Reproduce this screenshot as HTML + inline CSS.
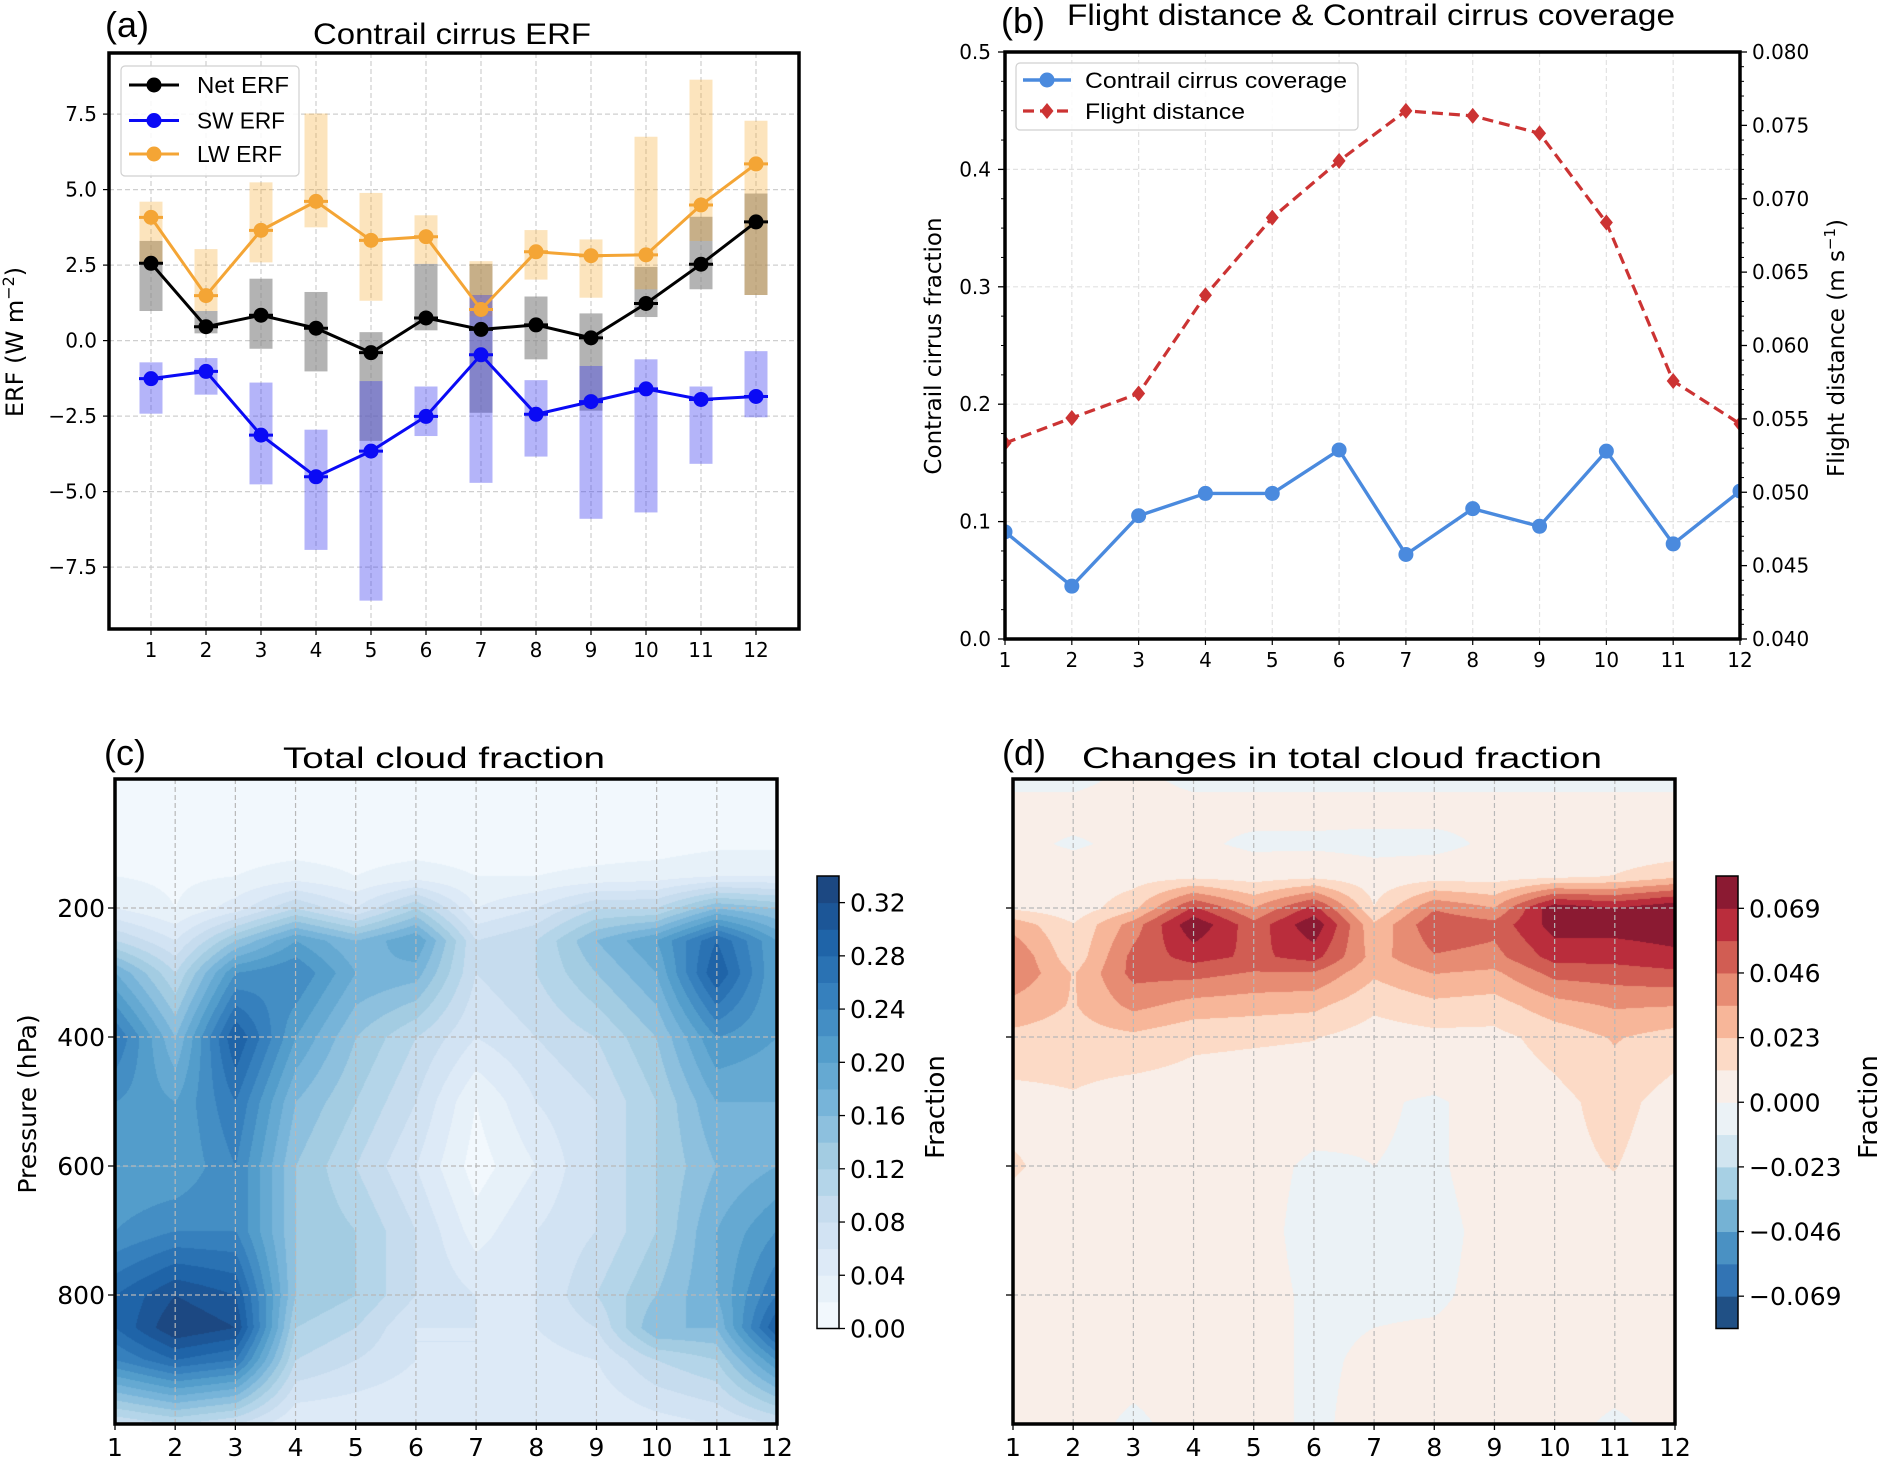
<!DOCTYPE html>
<html><head><meta charset="utf-8">
<style>
html,body{margin:0;padding:0;background:#fff;}
#wrap{position:relative;width:1884px;height:1459px;overflow:hidden;background:#fff;}
canvas{position:absolute;}
svg{position:absolute;left:0;top:0;}
text{font-family:"DejaVu Sans","Liberation Sans",sans-serif;}
.tt{font-family:"Liberation Sans",sans-serif;}
</style></head>
<body>
<div id="wrap">
<canvas id="cvc" style="left:115px;top:779px" width="662" height="645"></canvas>
<canvas id="cvd" style="left:1013px;top:779px" width="662" height="645"></canvas>
<svg id="svg" width="1884" height="1459"></svg>
</div>
<script>
// ---------- Panel (a) data ----------
const months = [1,2,3,4,5,6,7,8,9,10,11,12];
const netErf = [2.56,0.46,0.84,0.41,-0.40,0.75,0.37,0.52,0.09,1.23,2.53,3.93];
const swErf  = [-1.26,-1.02,-3.13,-4.51,-3.66,-2.51,-0.47,-2.44,-2.02,-1.60,-1.95,-1.85];
const lwErf  = [4.08,1.49,3.65,4.61,3.32,3.44,1.03,2.94,2.81,2.84,4.49,5.85];
const netHi = [3.30,0.98,2.05,1.61,0.28,2.54,2.54,1.46,0.90,2.44,4.10,4.87];
const netLo = [0.98,0.24,-0.27,-1.02,-3.32,0.34,-2.39,-0.62,-2.32,0.78,1.70,1.51];
const swHi = [-0.72,-0.58,-1.39,-2.95,-1.34,-1.52,1.51,-1.31,-0.84,-0.62,-1.52,-0.35];
const swLo = [-2.42,-1.79,-4.76,-6.93,-8.61,-3.16,-4.71,-3.84,-5.90,-5.69,-4.08,-2.54];
const lwHi = [4.60,3.03,5.24,7.52,4.89,4.15,2.63,3.66,3.35,6.75,8.64,7.28];
const lwLo = [2.56,0.98,2.59,3.75,1.32,2.54,0.80,2.02,1.42,1.70,3.30,1.51];
const aTicks = [-7.5,-5.0,-2.5,0.0,2.5,5.0,7.5];
const aTickLabels = ["\u22127.5","\u22125.0","\u22122.5","0.0","2.5","5.0","7.5"];
// ---------- Panel (b) data ----------
const coverage = [0.0913,0.045,0.105,0.124,0.124,0.161,0.072,0.111,0.096,0.160,0.081,0.126];
const flightDist = [0.05335,0.05506,0.05673,0.06342,0.06871,0.07258,0.07599,0.07565,0.07446,0.06838,0.05758,0.05466];
const bLeftTicks = [0.0,0.1,0.2,0.3,0.4,0.5];
const bLeftLabels = ["0.0","0.1","0.2","0.3","0.4","0.5"];
const bRightTicks = [0.040,0.045,0.050,0.055,0.060,0.065,0.070,0.075,0.080];
const bRightLabels = ["0.040","0.045","0.050","0.055","0.060","0.065","0.070","0.075","0.080"];
// ---------- Panel (c) data ----------
const cPress = [0,100,150,200,250,300,400,500,600,700,800,850,900,1000];
const cloudFrac = [
 [0.01,0.01,0.01,0.01,0.01,0.01,0.01,0.01,0.01,0.01,0.01,0.01],
 [0.01,0.01,0.01,0.01,0.01,0.01,0.01,0.01,0.01,0.01,0.015,0.015],
 [0.02,0.015,0.02,0.03,0.02,0.03,0.02,0.02,0.025,0.03,0.04,0.04],
 [0.04,0.02,0.05,0.10,0.06,0.12,0.04,0.06,0.10,0.10,0.16,0.14],
 [0.10,0.06,0.14,0.20,0.16,0.20,0.08,0.10,0.16,0.20,0.28,0.20],
 [0.18,0.10,0.22,0.24,0.18,0.17,0.08,0.10,0.14,0.18,0.30,0.20],
 [0.26,0.16,0.30,0.20,0.14,0.10,0.06,0.08,0.10,0.14,0.22,0.20],
 [0.22,0.20,0.26,0.16,0.12,0.08,0.02,0.06,0.08,0.12,0.18,0.18],
 [0.20,0.20,0.24,0.14,0.10,0.06,0.01,0.04,0.08,0.12,0.16,0.18],
 [0.22,0.24,0.24,0.14,0.12,0.08,0.03,0.06,0.08,0.12,0.18,0.22],
 [0.28,0.32,0.30,0.14,0.12,0.08,0.06,0.06,0.10,0.14,0.18,0.26],
 [0.28,0.34,0.32,0.12,0.10,0.06,0.06,0.06,0.08,0.16,0.16,0.30],
 [0.24,0.28,0.26,0.10,0.08,0.06,0.06,0.05,0.06,0.10,0.12,0.22],
 [0.08,0.10,0.08,0.04,0.04,0.04,0.05,0.04,0.04,0.05,0.06,0.08]];
const cLevels = [0,0.02,0.04,0.06,0.08,0.10,0.12,0.14,0.16,0.18,0.20,0.22,0.24,0.26,0.28,0.30,0.32,0.34];
const cCbTicks = [0.00,0.04,0.08,0.12,0.16,0.20,0.24,0.28,0.32];
const cCbLabels = ["0.00","0.04","0.08","0.12","0.16","0.20","0.24","0.28","0.32"];
// ---------- Panel (d) data ----------
const dPress = [0,60,100,150,200,225,275,300,350,400,500,600,700,800,900,1000];
const cloudChange = [
 [-0.001,-0.001,0.001,-0.001,-0.001,-0.001,-0.001,-0.001,-0.001,-0.001,-0.001,-0.001],
 [0.002,0.002,0.002,0.002,0.002,0.002,0.002,0.002,0.002,0.002,0.002,0.002],
 [0.002,-0.001,0.002,0.002,-0.002,-0.002,-0.003,-0.003,0.002,0.002,0.002,0.002],
 [0.004,0.004,0.006,0.008,0.006,0.008,0.004,0.006,0.006,0.008,0.012,0.02],
 [0.010,0.004,0.02,0.06,0.035,0.062,0.012,0.045,0.035,0.078,0.07,0.08],
 [0.03,0.012,0.04,0.078,0.05,0.078,0.025,0.055,0.05,0.074,0.074,0.076],
 [0.045,0.015,0.05,0.062,0.055,0.062,0.03,0.045,0.042,0.062,0.062,0.066],
 [0.045,0.022,0.05,0.05,0.045,0.045,0.025,0.035,0.032,0.05,0.052,0.055],
 [0.03,0.022,0.038,0.03,0.028,0.026,0.014,0.02,0.018,0.03,0.036,0.035],
 [0.02,0.018,0.02,0.014,0.013,0.012,0.006,0.008,0.008,0.016,0.024,0.018],
 [0.007,0.010,0.005,0.005,0.004,0.003,0.001,-0.001,0.003,0.008,0.016,0.006],
 [0.013,0.006,0.003,0.003,0.002,-0.001,0.000,-0.001,0.003,0.008,0.012,0.004],
 [0.005,0.002,0.002,0.002,0.002,-0.002,-0.002,-0.002,0.002,0.004,0.006,0.002],
 [0.003,0.002,0.002,0.002,0.002,-0.001,-0.001,-0.001,0.002,0.003,0.008,0.002],
 [0.002,0.002,0.002,0.002,0.002,-0.001,0.001,0.002,0.002,0.002,0.003,0.002],
 [0.002,0.002,-0.001,0.002,0.002,-0.001,0.002,0.002,0.002,0.002,-0.001,0.002]];
const dLevels = [-0.0805,-0.069,-0.0575,-0.046,-0.0345,-0.023,-0.0115,0,0.0115,0.023,0.0345,0.046,0.0575,0.069,0.0805];
const dCbTicks = [-0.069,-0.046,-0.023,0,0.023,0.046,0.069];
const dCbLabels = ["\u22120.069","\u22120.046","\u22120.023","0.000","0.023","0.046","0.069"];
const pTicks = [200,400,600,800];
const pTickLabels = ["200","400","600","800"];

// ---------- helpers ----------
const NS="http://www.w3.org/2000/svg";
const svg=document.getElementById('svg');
function mk(tag,attrs,parent){const e=document.createElementNS(NS,tag);for(const k in attrs)e.setAttribute(k,attrs[k]);(parent||svg).appendChild(e);return e;}
function txt(s,x,y,size,anchor,parent,extra){const e=mk('text',Object.assign({x:x,y:y,'font-size':size,'text-anchor':anchor||'middle',fill:'#000'},extra||{}),parent);e.textContent=s;return e;}
function hex(h){return [parseInt(h.substr(1,2),16),parseInt(h.substr(3,2),16),parseInt(h.substr(5,2),16)];}
function cmap(anchors,t){t=Math.max(0,Math.min(1,t));const n=anchors.length-1;const f=t*n;const i=Math.min(n-1,Math.floor(f));const u=f-i;const a=hex(anchors[i]),b=hex(anchors[i+1]);return [0,1,2].map(k=>Math.round(a[k]+(b[k]-a[k])*u));}
const BLUES=['#f7fbff','#deebf7','#c6dbef','#9ecae1','#6baed6','#4292c6','#2171b5','#08519c','#08306b'];
const RDBU=['#053061','#2166ac','#4393c3','#92c5de','#d1e5f0','#f7f7f7','#fddbc7','#f4a582','#d6604d','#b2182b','#67001f'];
function bandColor(anch,i,n,alpha){const c=cmap(anch,(i+0.5)/n);return c.map(v=>Math.round(v*alpha+255*(1-alpha)));}
function rgb(c){return 'rgb('+c[0]+','+c[1]+','+c[2]+')';}

// ---------- Panel (a) ----------
const A={l:109,r:799,t:53,b:629};
const xa=m=>151+(m-1)*55;
const ya=v=>340.6-v*30.2;
const ga=mk('g',{});


months.forEach(m=>{const l=mk('line',{x1:xa(m),x2:xa(m),y1:A.t,y2:A.b,stroke:'#cfcfcf','stroke-width':1.2,'stroke-dasharray':'5,3'},ga);

});
aTicks.forEach(v=>{const l=mk('line',{x1:A.l,x2:A.r,y1:ya(v),y2:ya(v),stroke:'#cfcfcf','stroke-width':1.2,'stroke-dasharray':'5,3'},ga);

});
function bars(lo,hi,color,op,name){months.forEach((m,i)=>{const y1=ya(hi[i]),y2=ya(lo[i]);const r=mk('rect',{x:xa(m)-11.5,y:y1,width:23,height:y2-y1,fill:color,'fill-opacity':op},ga);

});}
bars(netLo,netHi,'#808080',0.6,'net-erf-range-bar');
bars(lwLo,lwHi,'#f5a623',0.3,'lw-erf-range-bar');
bars(swLo,swHi,'#3a3af0',0.38,'sw-erf-range-bar');
function series(vals,color,name){const pts=months.map((m,i)=>xa(m)+','+ya(vals[i])).join(' ');
const pl=mk('polyline',{points:pts,fill:'none',stroke:color,'stroke-width':3},ga);


months.forEach((m,i)=>{const c=mk('line',{x1:xa(m)-12,x2:xa(m)+12,y1:ya(vals[i]),y2:ya(vals[i]),stroke:color,'stroke-width':3},ga);


const p=mk('circle',{cx:xa(m),cy:ya(vals[i]),r:7.5,fill:color},ga);

});}
series(lwErf,'#f4a535','lw-erf');
series(netErf,'#000000','net-erf');
series(swErf,'#0a0af5','sw-erf');
const fa=mk('rect',{x:A.l,y:A.t,width:A.r-A.l,height:A.b-A.t,fill:'none',stroke:'#000','stroke-width':3.5},ga);


aTicks.forEach((v,i)=>{const t=mk('line',{x1:A.l-6,x2:A.l,y1:ya(v),y2:ya(v),stroke:'#000','stroke-width':1.2},ga);


const lb=txt(aTickLabels[i],97,ya(v)+7,20,'end',ga);

});
months.forEach(m=>{const t=mk('line',{x1:xa(m),x2:xa(m),y1:A.b,y2:A.b+6,stroke:'#000','stroke-width':1.2},ga);


const lb=txt(String(m),xa(m),657,20,'middle',ga);

});
let e=txt('(a)',105,37,36,'start',ga,{class:'tt'});


e=txt('Contrail cirrus ERF',452,44,30,'middle',ga,{class:'tt',textLength:278,lengthAdjust:'spacingAndGlyphs'});


e=txt('',0,0,24,'middle',ga,{transform:'translate(23,342) rotate(-90)'});
e.innerHTML='ERF (W m<tspan dy="-9" font-size="16">\u22122</tspan><tspan dy="9">)</tspan>';


const lga=mk('g',{},ga);


mk('rect',{x:121,y:66,width:178,height:110,rx:4,fill:'#fff','fill-opacity':0.85,stroke:'#d0d0d0','stroke-width':1.2},lga);
[['Net ERF','#000',85,92],['SW ERF','#0a0af5',120.5,88],['LW ERF','#f4a535',154,85]].forEach(d=>{
const li=mk('line',{x1:129,x2:179,y1:d[2],y2:d[2],stroke:d[1],'stroke-width':3},lga);


const c=mk('circle',{cx:154,cy:d[2],r:7.5,fill:d[1]},lga);


const t=txt(d[0],197,d[2]+8,23,'start',lga,{class:'tt',textLength:d[3],lengthAdjust:'spacingAndGlyphs'});

});

// ---------- Panel (b) ----------
const B={l:1005,r:1740,t:52,b:639};
const xb=m=>B.l+(m-1)*(B.r-B.l)/11;
const ybl=v=>B.b-v*(B.b-B.t)/0.5;
const ybr=v=>B.b-(v-0.04)/0.04*(B.b-B.t);
const gb=mk('g',{});


months.forEach(m=>{const l=mk('line',{x1:xb(m),x2:xb(m),y1:B.t,y2:B.b,stroke:'#e2e2e2','stroke-width':1.2,'stroke-dasharray':'5,3'},gb);

});
bLeftTicks.forEach(v=>{const l=mk('line',{x1:B.l,x2:B.r,y1:ybl(v),y2:ybl(v),stroke:'#e2e2e2','stroke-width':1.2,'stroke-dasharray':'5,3'},gb);

});
let pts=months.map((m,i)=>xb(m)+','+ybr(flightDist[i])).join(' ');
e=mk('polyline',{points:pts,fill:'none',stroke:'#cc3333','stroke-width':3.2,'stroke-dasharray':'11,6'},gb);


months.forEach((m,i)=>{const x=xb(m),y=ybr(flightDist[i]);const d=mk('polygon',{points:`${x},${y-8} ${x+6.5},${y} ${x},${y+8} ${x-6.5},${y}`,fill:'#cc3333'},gb);

});
pts=months.map((m,i)=>xb(m)+','+ybl(coverage[i])).join(' ');
e=mk('polyline',{points:pts,fill:'none',stroke:'#4a8ade','stroke-width':3.4},gb);


months.forEach((m,i)=>{const c=mk('circle',{cx:xb(m),cy:ybl(coverage[i]),r:7.5,fill:'#4a8ade'},gb);

});
e=mk('rect',{x:B.r+1.5,y:B.t-10,width:12,height:B.b-B.t+20,fill:'#fff'},gb);


e=mk('rect',{x:B.l-13.5,y:B.t-10,width:12,height:B.b-B.t+20,fill:'#fff'},gb);


e=mk('rect',{x:B.l,y:B.t,width:B.r-B.l,height:B.b-B.t,fill:'none',stroke:'#000','stroke-width':3.5},gb);


bLeftTicks.forEach((v,i)=>{const t=mk('line',{x1:B.l-7,x2:B.l,y1:ybl(v),y2:ybl(v),stroke:'#000','stroke-width':1.3},gb);


const lb=txt(bLeftLabels[i],991,ybl(v)+7,20,'end',gb);

});
for(let k=1;k<20;k++){if(k%4===0)continue;const v=k*0.025;const t=mk('line',{x1:B.l-4,x2:B.l,y1:ybl(v),y2:ybl(v),stroke:'#000','stroke-width':1},gb);

}
bRightTicks.forEach((v,i)=>{const t=mk('line',{x1:B.r,x2:B.r+7,y1:ybr(v),y2:ybr(v),stroke:'#000','stroke-width':1.3},gb);


const lb=txt(bRightLabels[i],1752,ybr(v)+7,20,'start',gb);

});
for(let k=1;k<40;k++){if(k%5===0)continue;const v=0.04+k*0.001;const t=mk('line',{x1:B.r,x2:B.r+4,y1:ybr(v),y2:ybr(v),stroke:'#000','stroke-width':1},gb);

}
months.forEach(m=>{const t=mk('line',{x1:xb(m),x2:xb(m),y1:B.b,y2:B.b+6,stroke:'#000','stroke-width':1.2},gb);


const lb=txt(String(m),xb(m),667,20,'middle',gb);

});
e=txt('(b)',1001,33,36,'start',gb,{class:'tt'});


e=txt('Flight distance & Contrail cirrus coverage',1067,25,30,'start',gb,{class:'tt',textLength:608,lengthAdjust:'spacingAndGlyphs'});


e=txt('Contrail cirrus fraction',0,0,23,'middle',gb,{transform:'translate(941,346) rotate(-90)'});


e=txt('',0,0,23,'middle',gb,{transform:'translate(1844,348) rotate(-90)'});
e.innerHTML='Flight distance (m s<tspan dy="-9" font-size="15">\u22121</tspan><tspan dy="9">)</tspan>';


const lgb=mk('g',{},gb);


mk('rect',{x:1016,y:63,width:342,height:67,rx:4,fill:'#fff','fill-opacity':0.85,stroke:'#d0d0d0','stroke-width':1.2},lgb);
e=mk('line',{x1:1023,x2:1071,y1:80,y2:80,stroke:'#4a8ade','stroke-width':3.4},lgb);


e=mk('circle',{cx:1047,cy:80,r:7.5,fill:'#4a8ade'},lgb);


e=txt('Contrail cirrus coverage',1085,88,22,'start',lgb,{class:'tt',textLength:262,lengthAdjust:'spacingAndGlyphs'});


e=mk('line',{x1:1023,x2:1071,y1:111,y2:111,stroke:'#cc3333','stroke-width':3.2,'stroke-dasharray':'11,6'},lgb);


e=mk('polygon',{points:'1047,103 1053.5,111 1047,119 1040.5,111',fill:'#cc3333'},lgb);


e=txt('Flight distance',1085,119,22,'start',lgb,{class:'tt',textLength:160,lengthAdjust:'spacingAndGlyphs'});



// ---------- field panels (c),(d) ----------
function sample(P,Z,m,p){let i=0;while(i<P.length-2&&p>P[i+1])i++;const u=Math.max(0,Math.min(1,(p-P[i])/(P[i+1]-P[i])));
let j=Math.min(10,Math.max(0,Math.floor(m-1)));const w=Math.max(0,Math.min(1,(m-1)-j));
const a=Z[i][j]*(1-w)+Z[i][j+1]*w,b=Z[i+1][j]*(1-w)+Z[i+1][j+1]*w;return a*(1-u)+b*u;}
function drawField(id,P,Z,levels,anch,alpha){const cv=document.getElementById(id);const ctx=cv.getContext('2d');const W=cv.width,H=cv.height;
const img=ctx.createImageData(W,H);const nb=levels.length-1;const cols=[];for(let i=0;i<nb;i++)cols.push(bandColor(anch,i,nb,alpha));
for(let y=0;y<H;y++){const p=y/H*1000;for(let x=0;x<W;x++){const m=1+x/(W-1)*11;const v=sample(P,Z,m,p);let k=0;while(k<nb-1&&v>levels[k+1])k++;const c=cols[k];const o=(y*W+x)*4;img.data[o]=c[0];img.data[o+1]=c[1];img.data[o+2]=c[2];img.data[o+3]=255;}}
ctx.putImageData(img,0,0);}
drawField('cvc',cPress,cloudFrac,cLevels,BLUES,0.92);
drawField('cvd',dPress,cloudChange,dLevels,RDBU,0.93);

function fieldAxes(L,R,name,showY,title,titleX,titleStart,tlen,lab,labX,cbX,levels,anch,alpha,cbTicks,cbLabels,cbLabX){
const T=779,Bt=1424;const g=mk('g',{});


const xf=m=>L+(m-1)*(R-L)/11;const yf=p=>T+p*(Bt-T)/1000;
months.forEach(m=>{if(m===1||m===12)return;const l=mk('line',{x1:xf(m),x2:xf(m),y1:T,y2:Bt,stroke:'#b8b8b8','stroke-width':1.2,'stroke-dasharray':'5,3'},g);

});
pTicks.forEach((p,i)=>{const l=mk('line',{x1:L,x2:R,y1:yf(p),y2:yf(p),stroke:'#b8b8b8','stroke-width':1.2,'stroke-dasharray':'5,3'},g);


const t=mk('line',{x1:L-7,x2:L,y1:yf(p),y2:yf(p),stroke:'#000','stroke-width':1.3},g);


if(showY){const lb=txt(pTickLabels[i],105,yf(p)+9,25,'end',g);

}});
const fr=mk('rect',{x:L,y:T,width:R-L,height:Bt-T,fill:'none',stroke:'#000','stroke-width':3.5},g);


months.forEach(m=>{const t=mk('line',{x1:xf(m),x2:xf(m),y1:Bt,y2:Bt+6,stroke:'#000','stroke-width':1.3},g);


const lb=txt(String(m),xf(m),1456,25,'middle',g);

});
let el=txt(lab,labX,765,36,'start',g,{class:'tt'});


el=txt(title,titleX,768,30,titleStart?'start':'middle',g,{class:'tt',textLength:tlen,lengthAdjust:'spacingAndGlyphs'});


const cT=876,cB=1328.5,cw=22;const lo=levels[0],hi=levels[levels.length-1];const yc=v=>cB-(v-lo)/(hi-lo)*(cB-cT);
const nb=levels.length-1;
for(let i=0;i<nb;i++){const r=mk('rect',{x:cbX,y:yc(levels[i+1]),width:cw,height:yc(levels[i])-yc(levels[i+1])+0.5,fill:rgb(bandColor(anch,i,nb,alpha))},g);

}
const cf=mk('rect',{x:cbX,y:cT,width:cw,height:cB-cT,fill:'none',stroke:'#000','stroke-width':1.5},g);


cbTicks.forEach((v,i)=>{const t=mk('line',{x1:cbX+cw,x2:cbX+cw+6,y1:yc(v),y2:yc(v),stroke:'#000','stroke-width':1.3},g);


const lb=txt(cbLabels[i],cbLabX,yc(v)+9,25,'start',g);

});
return g;}
const gc=fieldAxes(115,777,'total-cloud',true,'Total cloud fraction',444,false,322,'(c)',104,817,cLevels,BLUES,0.92,cCbTicks,cCbLabels,850);
e=txt('Pressure (hPa)',0,0,25,'middle',gc,{transform:'translate(36,1104) rotate(-90)'});


e=txt('Fraction',0,0,26,'middle',gc,{transform:'translate(944,1107) rotate(-90)'});


const gd=fieldAxes(1013,1675,'cloud-change',false,'Changes in total cloud fraction',1082,true,520,'(d)',1002,1716,dLevels,RDBU,0.93,dCbTicks,dCbLabels,1749);
e=txt('Fraction',0,0,26,'middle',gd,{transform:'translate(1877,1107) rotate(-90)'});


</script>
</body></html>
